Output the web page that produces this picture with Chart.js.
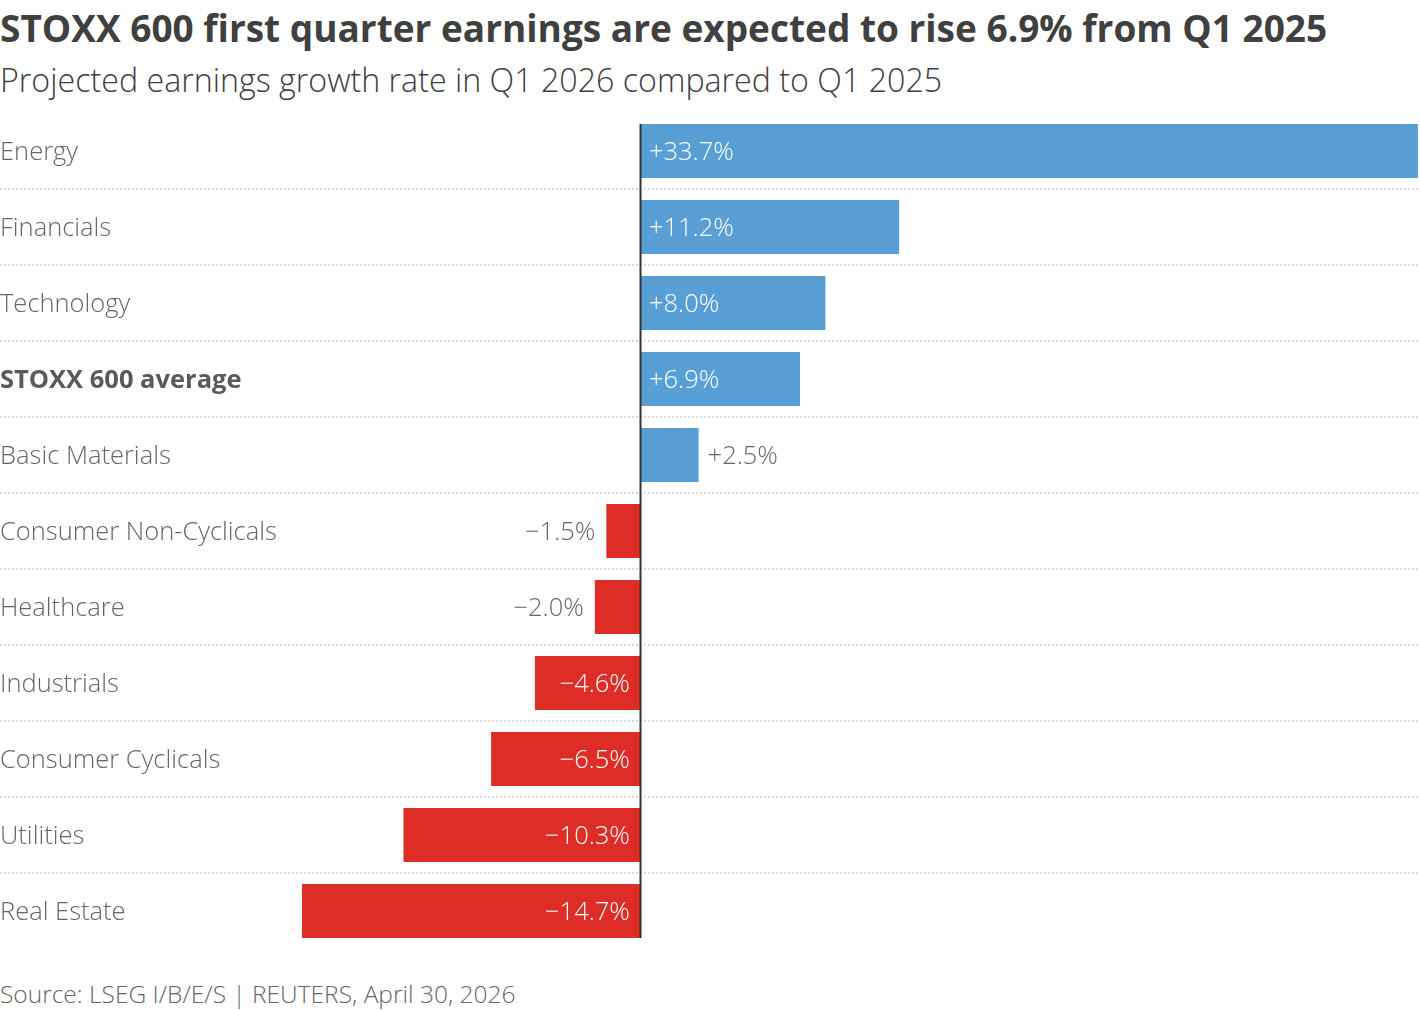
<!DOCTYPE html>
<html>
<head>
<meta charset="utf-8">
<script src="https://cdn.jsdelivr.net/npm/chart.js@4/dist/chart.umd.min.js"></script>
<style>
  html, body { margin: 0; padding: 0; background: #fff; }
  body { width: 1420px; height: 1010px; position: relative; overflow: hidden; font-family: "Open Sans", sans-serif; }
  h1 { position: absolute; left: 0; top: 3px; margin: 0; font-size: 37px; font-weight: 700; color: #404040; white-space: nowrap; line-height: 50px; }
  h2 { position: absolute; left: 0; top: 55px; margin: 0; font-size: 32.2px; font-weight: 300; color: #404040; white-space: nowrap; line-height: 50px; }
  .source { position: absolute; left: 0; top: 977px; font-size: 24.5px; font-weight: 300; color: #666; white-space: nowrap; line-height: 34px; }
  #wrap { position: absolute; left: 0; top: 113px; width: 1420px; height: 836px; }
</style>
</head>
<body>
<h1>STOXX 600 first quarter earnings are expected to rise 6.9% from Q1 2025</h1>
<h2>Projected earnings growth rate in Q1 2026 compared to Q1 2025</h2>
<div id="wrap"><canvas id="chart"></canvas></div>
<div class="source">Source: LSEG I/B/E/S | REUTERS, April 30, 2026</div>
<script>
const sectors = [
    'Energy', 'Financials', 'Technology', 'STOXX 600 average', 'Basic Materials',
    'Consumer Non-Cyclicals', 'Healthcare', 'Industrials', 'Consumer Cyclicals',
    'Utilities', 'Real Estate'
];
const growth = [33.7, 11.2, 8.0, 6.9, 2.5, -1.5, -2.0, -4.6, -6.5, -10.3, -14.7];
const averageLabel = 'STOXX 600 average';

const Theme = {
    blue: '#579fd5',
    red: '#de2d26',
    label: '#666666',
    bold: '#5a5a5a',
    grid: '#d9d9d9',
    axis: '#333333',
    font: '"Open Sans", sans-serif'
};

const fmt = v => (v > 0 ? '+' : '\u2212') + Math.abs(v).toFixed(1) + '%';

// value labels: inside the bar when it fits, outside otherwise
const valueLabels = {
    id: 'valueLabels',
    afterDatasetsDraw(chart) {
        const ctx = chart.ctx;
        const meta = chart.getDatasetMeta(0);
        ctx.save();
        ctx.font = '300 25.5px ' + Theme.font;
        ctx.textBaseline = 'middle';
        meta.data.forEach((bar, i) => {
            const v = growth[i];
            const text = fmt(v);
            const w = ctx.measureText(text).width;
            const len = Math.abs(bar.x - bar.base);
            const inside = len > w + 22;
            ctx.fillStyle = inside ? '#ffffff' : Theme.label;
            if (v >= 0) {
                ctx.textAlign = 'left';
                ctx.fillText(text, inside ? bar.base + 8 : bar.x + 9, bar.y + 2);
            } else {
                ctx.textAlign = 'right';
                ctx.fillText(text, inside ? bar.base - 11 : bar.x - 11, bar.y + 2);
            }
        });
        ctx.restore();
    }
};

// zero line from the first bar's top to the last bar's bottom
const zeroLine = {
    id: 'zeroLine',
    afterDatasetsDraw(chart) {
        const meta = chart.getDatasetMeta(0);
        const first = meta.data[0], last = meta.data[meta.data.length - 1];
        const x = Math.round(chart.scales.x.getPixelForValue(0)) - 0.5;
        const ctx = chart.ctx;
        ctx.save();
        ctx.strokeStyle = Theme.axis;
        ctx.lineWidth = 2;
        ctx.beginPath();
        ctx.moveTo(x, first.y - first.height / 2);
        ctx.lineTo(x, last.y + last.height / 2);
        ctx.stroke();
        ctx.restore();
    }
};

new Chart(document.getElementById('chart'), {
    type: 'bar',
    data: {
        labels: sectors,
        datasets: [{
            data: growth,
            backgroundColor: growth.map(v => v >= 0 ? Theme.blue : Theme.red),
            borderWidth: 0,
            categoryPercentage: 1,
            barPercentage: 54 / 76
        }]
    },
    options: {
        indexAxis: 'y',
        responsive: true,
        maintainAspectRatio: false,
        animation: false,
        layout: { padding: 0 },
        scales: {
            x: {
                display: false,
                min: -27.8,
                max: 33.79
            },
            y: {
                border: { display: false, dash: [2, 2] },
                grid: {
                    drawTicks: false,
                    lineWidth: 2,
                    color: c => (c.index === 0 || c.index === undefined) ? 'transparent' : Theme.grid
                },
                ticks: {
                    mirror: true,
                    padding: 0,
                    labelOffset: 2,
                    color: c => sectors[c.index] === averageLabel ? Theme.bold : Theme.label,
                    // lineHeight 0 keeps the labels from padding the chart area
                    font: c => sectors[c.index] === averageLabel
                        ? { family: Theme.font, size: 25.5, weight: 'bold', lineHeight: 0 }
                        : { family: Theme.font, size: 25.5, weight: '300', lineHeight: 0 }
                }
            }
        },
        plugins: {
            legend: { display: false },
            tooltip: { enabled: false }
        }
    },
    plugins: [valueLabels, zeroLine]
});
</script>
</body>
</html>
